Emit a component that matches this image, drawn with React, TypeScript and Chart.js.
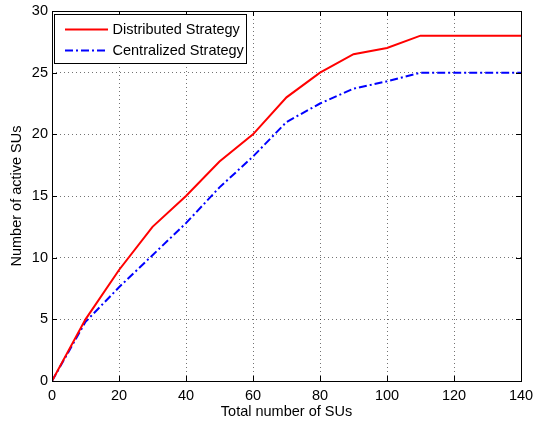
import React, { useEffect, useRef } from "react";
import { Chart, registerables } from "chart.js";

Chart.register(...registerables);

const totalSUs = [0, 10, 20, 30, 40, 50, 60, 70, 80, 90, 100, 110, 120, 130, 140];
const distributedActive = [0, 5, 9, 12.5, 15, 17.8, 20, 23, 25, 26.5, 27, 28, 28, 28, 28];
const centralizedActive = [0, 4.8, 7.6, 10.2, 12.8, 15.7, 18.2, 21, 22.5, 23.7, 24.3, 25, 25, 25, 25];
const seriesNames = ["Distributed Strategy", "Centralized Strategy"];
const xTitle = "Total number of SUs";
const yTitle = "Number of active SUs";

const FONT = "'Liberation Sans', Arial, Helvetica, sans-serif";
const BLUE_DASH = [8, 3, 2, 3];
const TXT = 14.5;

const frameAndLegend = {
  id: "frameAndLegend",
  afterDatasetsDraw(chart: any) {
    const { ctx, chartArea } = chart;
    const { left, right, top, bottom } = chartArea;
    const xs = chart.scales.x;
    const ys = chart.scales.y;
    ctx.save();
    ctx.strokeStyle = "#000";
    ctx.lineWidth = 1;
    ctx.setLineDash([]);
    ctx.strokeRect(Math.round(left) + 0.5, Math.round(top) + 0.5, Math.round(right - left), Math.round(bottom - top));
    const tl = 5;
    ctx.beginPath();
    xs.ticks.forEach((t: any) => {
      const px = Math.round(xs.getPixelForValue(t.value)) + 0.5;
      ctx.moveTo(px, bottom);
      ctx.lineTo(px, bottom - tl);
      ctx.moveTo(px, top);
      ctx.lineTo(px, top + tl);
    });
    ys.ticks.forEach((t: any) => {
      const py = Math.round(ys.getPixelForValue(t.value)) + 0.5;
      ctx.moveTo(left, py);
      ctx.lineTo(left + tl, py);
      ctx.moveTo(right, py);
      ctx.lineTo(right - tl, py);
    });
    ctx.stroke();

    const lx = 54.5, ly = 14.5, lw = 192, lh = 49;
    ctx.fillStyle = "#fff";
    ctx.fillRect(lx, ly, lw, lh);
    ctx.strokeStyle = "#000";
    ctx.lineWidth = 1;
    ctx.strokeRect(lx, ly, lw, lh);
    const rows = [
      { y: 29.5, color: "#ff0000", dash: [] as number[], label: seriesNames[0] },
      { y: 50.5, color: "#0000ff", dash: BLUE_DASH, label: seriesNames[1] },
    ];
    ctx.font = `${TXT}px ${FONT}`;
    ctx.textBaseline = "middle";
    ctx.textAlign = "left";
    rows.forEach((r) => {
      ctx.strokeStyle = r.color;
      ctx.lineWidth = 2;
      ctx.setLineDash(r.dash);
      ctx.beginPath();
      ctx.moveTo(65, r.y);
      ctx.lineTo(108, r.y);
      ctx.stroke();
      ctx.setLineDash([]);
      ctx.fillStyle = "#000";
      ctx.fillText(r.label, 112.5, r.y + 0.5);
    });
    ctx.restore();
  },
};

export default function App() {
  const ref = useRef<HTMLCanvasElement | null>(null);
  useEffect(() => {
    if (!ref.current) return;
    const chart = new Chart(ref.current, {
      type: "line",
      data: {
        labels: totalSUs,
        datasets: [
          {
            label: seriesNames[0],
            data: totalSUs.map((x, i) => ({ x, y: distributedActive[i] })),
            borderColor: "#ff0000",
            borderWidth: 2,
            pointRadius: 0,
            tension: 0,
            fill: false,
          },
          {
            label: seriesNames[1],
            data: totalSUs.map((x, i) => ({ x, y: centralizedActive[i] })),
            borderColor: "#0000ff",
            borderWidth: 2,
            borderDash: BLUE_DASH,
            pointRadius: 0,
            tension: 0,
            fill: false,
          },
        ],
      },
      options: {
        animation: false,
        responsive: false,
        devicePixelRatio: 1,
        layout: { padding: { left: 0, right: 12, top: 11, bottom: 0 } },
        plugins: { legend: { display: false }, tooltip: { enabled: false } },
        scales: {
          x: {
            type: "linear",
            min: 0,
            max: 140,
            ticks: { stepSize: 20, color: "#000", font: { family: FONT, size: TXT }, padding: 6, maxRotation: 0 },
            grid: { color: "rgba(0,0,0,0.55)", drawTicks: false, lineWidth: 1 },
            border: { display: false, dash: [1, 3] },
            title: { display: true, text: xTitle, color: "#000", font: { family: FONT, size: TXT }, padding: { top: 0, bottom: 5 } },
            afterFit: (s: any) => { s.height = 45; s.paddingLeft = 0; s.paddingRight = 0; },
          },
          y: {
            min: 0,
            max: 30,
            ticks: { stepSize: 5, color: "#000", font: { family: FONT, size: TXT }, padding: 4 },
            grid: { color: "rgba(0,0,0,0.55)", drawTicks: false, lineWidth: 1 },
            border: { display: false, dash: [1, 3] },
            title: { display: true, text: yTitle, color: "#000", font: { family: FONT, size: TXT }, padding: { top: 8, bottom: 0 } },
            afterFit: (s: any) => { s.width = 52; s.paddingTop = 0; s.paddingBottom = 0; },
          },
        },
      },
      plugins: [frameAndLegend],
    } as any);
    return () => chart.destroy();
  }, []);
  return (
    <div style={{ position: "fixed", left: 0, top: 0, width: 533, height: 426, background: "#fff" }}>
      <canvas ref={ref} width={533} height={426} style={{ width: 533, height: 426, display: "block" }} />
    </div>
  );
}
